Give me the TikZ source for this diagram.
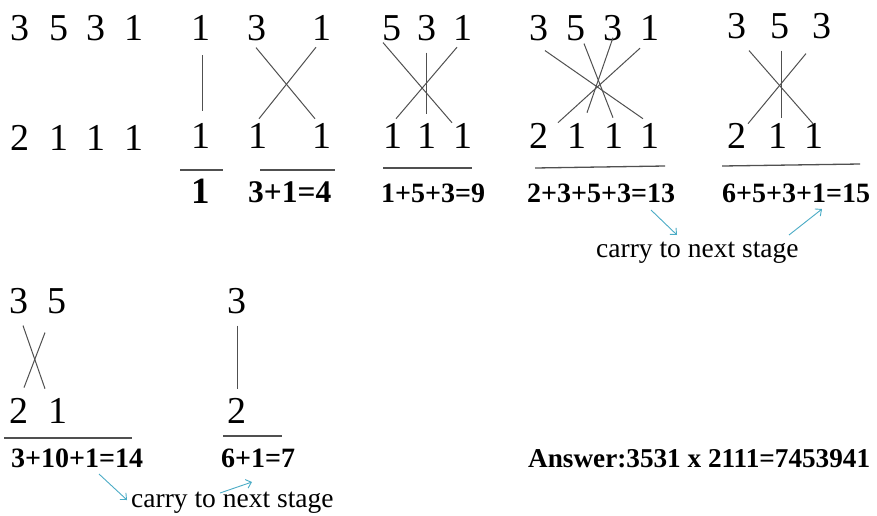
\documentclass[tikz,border=0pt]{standalone}
\usepackage{fontspec}
\setmainfont{Liberation Serif}
\usetikzlibrary{arrows.meta}
\definecolor{carryblue}{HTML}{4BACC6}
\definecolor{lngray}{HTML}{505050}
\begin{document}
\begin{tikzpicture}[x=1pt,y=-1pt,
  dig/.style={font=\fontsize{38}{40}\selectfont, inner sep=0pt, anchor=base},
  sumtxt/.style={font=\fontsize{28}{30}\selectfont\bfseries, inner sep=0pt, anchor=base west},
  note/.style={font=\fontsize{27.5}{30}\selectfont, inner sep=0pt, anchor=base west},
  ln/.style={draw=lngray, line width=1pt},
  rulestyle/.style={draw=lngray, line width=1.3pt},
  carry/.style={draw=carryblue, line width=0.9pt, -{Straight Barb[length=5pt,width=9pt]}}]
\useasboundingbox (0,0) rectangle (877,515);
\fill[white] (0,0) rectangle (877,515);

% stage 0: the numbers
\node[dig] (s0t1) at (20,40) {3};
\node[dig] (s0t2) at (59,40) {5};
\node[dig] (s0t3) at (96,40) {3};
\node[dig] (s0t4) at (134,40) {1};
\node[dig] (s0b1) at (20,150) {2};
\node[dig] (s0b2) at (59,150) {1};
\node[dig] (s0b3) at (96,150) {1};
\node[dig] (s0b4) at (134,150) {1};

% stage 1
\node[dig] (s1t1) at (201,40) {1};
\node[dig] (s1b1) at (201,148) {1};
\draw[ln] ([shift={(1,15)}]s1t1.south) -- ([shift={(1,-12)}]s1b1.north);
\draw[rulestyle] (180,170) -- (223,170);
\node[font=\fontsize{37}{40}\selectfont\bfseries, inner sep=0pt, anchor=base] (sum1) at (201,203) {1};

% stage 2
\node[dig] (s2t1) at (257,40) {3};
\node[dig] (s2t2) at (322,40) {1};
\node[dig] (s2b1) at (258,148) {1};
\node[dig] (s2b2) at (322,148) {1};
\draw[ln] ([shift={(-1,7)}]s2t1.south) -- ([shift={(-7,-4)}]s2b2.north);
\draw[ln] ([shift={(1,-4)}]s2b1.north) -- ([shift={(-6,7)}]s2t2.south);
\draw[rulestyle] (260,170) -- (335,170);
\node[sumtxt, font=\fontsize{31.5}{33}\selectfont\bfseries] (sum2) at (248,202) {3+1=4};

% stage 3
\node[dig] (s3t1) at (392,40) {5};
\node[dig] (s3t2) at (427,40) {3};
\node[dig] (s3t3) at (463,40) {1};
\node[dig] (s3b1) at (393,148) {1};
\node[dig] (s3b2) at (427,148) {1};
\node[dig] (s3b3) at (463,148) {1};
\draw[ln] ([shift={(-9,2)}]s3t1.south) -- ([shift={(-11,0)}]s3b3.north);
\draw[ln] ([shift={(-6,7)}]s3t3.south) -- ([shift={(3,-4)}]s3b1.north);
\draw[ln] ([shift={(-1,12)}]s3t2.south) -- ([shift={(-1,-9)}]s3b2.north);
\draw[rulestyle] (383,168) -- (472,168);
\node[sumtxt] (sum3) at (381,202) {1+5+3=9};

% stage 4
\node[dig] (s4t1) at (539,40) {3};
\node[dig] (s4t2) at (576,40) {5};
\node[dig] (s4t3) at (613,40) {3};
\node[dig] (s4t4) at (650,40) {1};
\node[dig] (s4b1) at (539,148) {2};
\node[dig] (s4b2) at (577,148) {1};
\node[dig] (s4b3) at (614,148) {1};
\node[dig] (s4b4) at (650,148) {1};
\draw[ln] ([shift={(6,10)}]s4t1.south) -- ([shift={(-7,-4)}]s4b4.north);
\draw[ln] ([shift={(-10,8)}]s4t4.south) -- ([shift={(19,0)}]s4b1.north);
\draw[ln] ([shift={(8,3)}]s4t2.south) -- ([shift={(-1,-5)}]s4b3.north);
\draw[ln] ([shift={(0,-3)}]s4t3.south) -- ([shift={(10,-10)}]s4b2.north);
\draw[rulestyle] (535,168) -- (665,166);
\node[sumtxt] (sum4) at (527,202) {2+3+5+3=13};

% stage 5
\node[dig] (s5t1) at (737,38) {3};
\node[dig] (s5t2) at (780,38) {5};
\node[dig] (s5t3) at (822,38) {3};
\node[dig] (s5b1) at (737,148) {2};
\node[dig] (s5b2) at (778,148) {1};
\node[dig] (s5b3) at (814,148) {1};
\draw[ln] ([shift={(12,12)}]s5t1.south) -- ([shift={(-1,1)}]s5b3.north);
\draw[ln] ([shift={(-16,15)}]s5t3.south) -- ([shift={(11,1)}]s5b1.north);
\draw[ln] ([shift={(1,12)}]s5t2.south) -- ([shift={(3,-5)}]s5b2.north);
\draw[rulestyle] (722,166) -- (860,164);
\node[sumtxt] (sum5) at (722,202) {6+5+3+1=15};

% carry note (top)
\node[note] (carryA) at (596,257) {carry to next stage};
\coordinate (ca1) at (651,210);
\coordinate (ca2) at (677,235);
\coordinate (ca3) at (789,235);
\coordinate (ca4) at (822,209);
\draw[carry] (ca1) -- (ca2);
\draw[carry] (ca3) -- (ca4);

% stage 6
\node[dig] (s6t1) at (19,313) {3};
\node[dig] (s6t2) at (57,313) {5};
\node[dig] (s6b1) at (19,423) {2};
\node[dig] (s6b2) at (58,423) {1};
\draw[ln] ([shift={(4,12)}]s6t1.south) -- ([shift={(-13,-9)}]s6b2.north);
\draw[ln] ([shift={(-12,19)}]s6t2.south) -- ([shift={(5,-10)}]s6b1.north);
\draw[rulestyle] (4,438) -- (132,438);
\node[sumtxt] (sum6) at (11,467) {3+10+1=14};

% stage 7
\node[dig] (s7t1) at (237,313) {3};
\node[dig] (s7b1) at (237,423) {2};
\draw[ln] ([shift={(0,12)}]s7t1.south) -- ([shift={(0,-9)}]s7b1.north);
\draw[rulestyle] (223,436) -- (282,436);
\node[sumtxt] (sum7) at (221,467) {6+1=7};

% carry note (bottom)
\node[note] (carryB) at (131,507) {carry to next stage};
\coordinate (cb1) at (99,474);
\coordinate (cb2) at (127,500);
\coordinate (cb3) at (220,493);
\coordinate (cb4) at (252,482);
\draw[carry] (cb1) -- (cb2);
\draw[carry] (cb3) -- (cb4);

% answer
\node[sumtxt, font=\fontsize{27.2}{30}\selectfont\bfseries] (answer) at (528,467) {Answer:3531 x 2111=7453941};
\end{tikzpicture}
\end{document}
